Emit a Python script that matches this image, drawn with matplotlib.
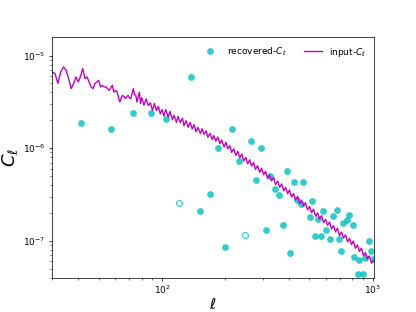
import matplotlib
matplotlib.use("Agg")
import matplotlib.pyplot as plt
import numpy as np

# input C_l (per multipole)
ell_in = [30, 31, 32, 33, 34, 35, 36, 37, 38, 39, 40, 41, 42, 43, 44, 45, 46, 47, 48, 49,
          50, 51, 52, 53, 54, 55, 56, 57, 58, 59, 60, 61, 62, 63, 64, 65, 66, 67, 68, 69,
          70, 71, 72, 73, 74, 75, 76, 77, 78, 79,
          80, 82, 84, 86, 88, 90, 92, 94, 96, 98, 100, 102, 104, 107, 109, 112, 114, 117, 119,
          122, 125, 127, 130, 133, 136, 139, 142, 145, 148, 152, 155, 158, 162, 165, 169, 173,
          176, 180, 184, 188, 192, 197, 201, 205, 210, 214, 219, 224, 229, 234, 239, 244, 250,
          255, 261, 266, 272, 278, 284, 291, 297, 304, 310, 317, 324, 331, 339, 346, 354, 362,
          370, 378, 386, 395, 403, 412, 421, 431, 440, 450, 460, 470, 480, 491, 502, 513, 524,
          536, 548, 560, 572, 585, 598, 611, 624, 638, 652, 667, 681, 696, 712, 727, 744, 760,
          777, 794, 811, 829, 848, 866, 885, 905, 925, 945, 966, 987, 1009]
cl_in = [6.66e-6, 6.40e-6, 4.99e-6, 6.66e-6, 7.55e-6, 6.95e-6, 5.6e-6, 4.40e-6, 4.99e-6, 5.88e-6,
         5.19e-6, 6.0e-6, 7.25e-6, 5.65e-6, 5.88e-6, 5.2e-6, 4.58e-6, 4.40e-6, 5.0e-6, 5.19e-6,
         5.41e-6, 4.58e-6, 4.78e-6, 4.58e-6, 4.6e-6, 4.40e-6, 4.22e-6, 4.5e-6, 4.78e-6, 4.04e-6,
         4.2e-6, 4.12e-6, 3.57e-6, 3.15e-6, 3.5e-6, 3.72e-6, 3.6e-6, 3.43e-6, 3.6e-6, 3.72e-6,
         3.5e-6, 3.43e-6, 3.9e-6, 4.40e-6, 3.8e-6, 3.72e-6, 3.15e-6, 3.6e-6, 4.04e-6, 3.03e-6,
         3.52e-6, 2.91e-6, 3.41e-6, 2.89e-6, 3.09e-6, 2.56e-6, 3.04e-6, 2.55e-6, 2.83e-6, 2.35e-6,
         2.61e-6, 2.22e-6, 2.61e-6, 2.17e-6, 2.50e-6, 2.04e-6, 2.27e-6, 1.90e-6, 2.21e-6,
         1.89e-6, 2.11e-6, 1.75e-6, 1.98e-6, 1.68e-6, 1.90e-6, 1.61e-6, 1.79e-6, 1.50e-6,
         1.68e-6, 1.44e-6, 1.62e-6, 1.41e-6, 1.54e-6, 1.31e-6, 1.45e-6, 1.24e-6,
         1.37e-6, 1.19e-6, 1.32e-6, 1.12e-6, 1.23e-6, 1.03e-6, 1.16e-6, 9.87e-7, 1.065e-6,
         9.00e-7, 9.84e-7, 8.36e-7, 9.26e-7, 7.88e-7, 8.65e-7, 7.28e-7, 7.95e-7,
         6.79e-7, 7.50e-7, 6.41e-7, 7.02e-7, 5.90e-7, 6.47e-7, 5.48e-7, 6.09e-7, 5.15e-7,
         5.64e-7, 4.72e-7, 5.16e-7, 4.43e-7, 4.82e-7, 4.04e-7, 4.41e-7, 3.78e-7,
         4.12e-7, 3.46e-7, 3.78e-7, 3.23e-7, 3.54e-7, 2.97e-7, 3.24e-7, 2.76e-7, 3.02e-7,
         2.53e-7, 2.75e-7, 2.36e-7, 2.58e-7, 2.16e-7, 2.35e-7, 2.01e-7, 2.20e-7,
         1.84e-7, 2.00e-7, 1.72e-7, 1.87e-7, 1.57e-7, 1.71e-7, 1.47e-7, 1.60e-7, 1.34e-7,
         1.46e-7, 1.25e-7, 1.37e-7, 1.14e-7, 1.245e-7, 1.07e-7, 1.16e-7, 9.74e-8,
         1.06e-7, 9.10e-8, 9.94e-8, 8.32e-8, 9.01e-8, 7.67e-8, 8.31e-8, 6.90e-8, 7.47e-8,
         6.36e-8, 6.88e-8, 5.72e-8, 6.12e-8]

# recovered C_l in bins (negative values drawn as open circles)
ell_rec = [41, 57, 73, 89, 104, 120, 137, 152, 169, 185, 200, 216, 232, 247, 264, 280, 295,
           312, 326, 343, 360, 374, 391, 406, 422, 436, 457, 469, 502, 517, 533, 552, 567,
           582, 599, 630, 646, 677, 695, 708, 723, 755, 769, 803, 818, 849, 864, 900, 920,
           960, 982, 1000]
cl_rec = [1.85e-6, 1.6e-6, 2.38e-6, 2.38e-6, 2.06e-6, -2.56e-7, 5.94e-6, 2.1e-7, 3.2e-7,
          9.93e-7, 8.6e-8, 1.61e-6, 7.36e-7, -1.15e-7, 1.19e-6, 4.58e-7, 1.0e-6,
          1.31e-7, 5.0e-7, 3.63e-7, 3.16e-7, 1.49e-7, 5.63e-7, 7.3e-8, 4.33e-7, 2.78e-7,
          2.5e-7, 4.35e-7, 1.79e-7, 2.71e-7, 1.12e-7, 1.72e-7, 1.14e-7,
          2.11e-7, 1.31e-7, 1.05e-7, 1.87e-7, 2.13e-7, 1.05e-7, 7.8e-8, 1.56e-7, 1.69e-7,
          1.9e-7, 1.48e-7, 6.76e-8, 4.4e-8, 6.2e-8, 4.4e-8, 6.5e-8,
          1.0e-7, 7.8e-8, 6.3e-8]

ell_rec = np.array(ell_rec)
cl_rec = np.array(cl_rec)
pos = cl_rec > 0

fig, ax = plt.subplots(figsize=(6.4, 4.8), dpi=65)
ax.plot(ell_rec[pos], cl_rec[pos], 'o', color='c', alpha=0.8, ms=7.5, mec='none',
        label=r'recovered-$C_\ell$')
ax.plot(ell_rec[~pos], -cl_rec[~pos], 'o', color='c', alpha=0.8, ms=6.5, mfc='none', mew=1.3)
ax.plot(ell_in, cl_in, color='m', lw=1.5, label=r'input-$C_\ell$')

ax.set_xscale('log')
ax.set_yscale('log')
ax.set_xlim(30, 1020)
ax.set_ylim(4e-8, 1.57e-5)
ax.set_xlabel(r'$\ell$', fontsize=17, labelpad=1)
ax.set_ylabel(r'$C_\ell$', fontsize=20)
ax.legend(loc='upper right', ncol=2, frameon=False, numpoints=1)

fig.savefig('out.png')
